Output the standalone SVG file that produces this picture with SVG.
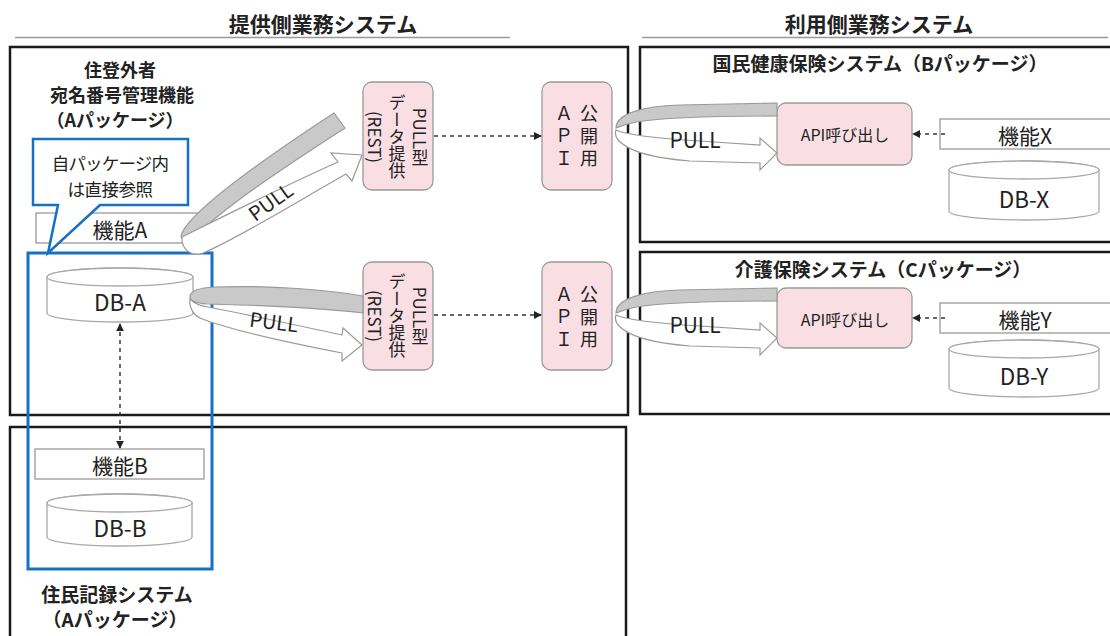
<svg xmlns="http://www.w3.org/2000/svg" width="1110" height="636" viewBox="0 0 1110 636">
<style>
text{font-family:"Noto Sans CJK JP","Noto Sans",sans-serif;fill:#222}
.hd{font-size:21px;font-weight:bold;text-anchor:middle}
.bt{font-size:18px;font-weight:bold;text-anchor:middle}
.bt2{font-size:19px;font-weight:bold;text-anchor:middle}
.lb{font-size:21px;text-anchor:middle;dominant-baseline:central}
.dbt{font-size:22.5px;text-anchor:middle;dominant-baseline:central}
.sys{fill:none;stroke:#1a1a1a;stroke-width:2.5}
.fn{fill:#fff;stroke:#9a9a9a;stroke-width:1.3}
.db{fill:#fff;stroke:#a8a8a8;stroke-width:1.3}
.pk{fill:#f9dfe4;stroke:#9a9a9a;stroke-width:1.3}
.vt{font-size:17px;writing-mode:vertical-rl;text-anchor:middle}
.va{font-size:18px;writing-mode:vertical-rl;text-anchor:middle;letter-spacing:4.5px}
.gr{fill:#c9c9c9;stroke:#9a9a9a;stroke-width:1.2}
.wh{fill:#fff;stroke:#9a9a9a;stroke-width:1.2}
.pl{font-size:20px;text-anchor:middle;dominant-baseline:central}
.pr{font-size:21px;text-anchor:middle;dominant-baseline:central}
.da{fill:none;stroke:#333;stroke-width:1.5;stroke-dasharray:4 4}
.blue{fill:none;stroke:#1670c4;stroke-width:3}
</style>
<defs>
<marker id="ah" viewBox="0 0 10 10" refX="9" refY="5" markerWidth="8" markerHeight="8" markerUnits="userSpaceOnUse" orient="auto-start-reverse">
<path d="M0,0 L10,5 L0,10 Z" fill="#222"/>
</marker>
</defs>

<g id="headers">
<text class="hd" x="323" y="32">提供側業務システム</text>
<line x1="15" y1="37.5" x2="510" y2="37.5" stroke="#999" stroke-width="1.3"/>
<text class="hd" x="879" y="32">利用側業務システム</text>
<line x1="642" y1="37.5" x2="1108" y2="37.5" stroke="#999" stroke-width="1.3"/>
</g>

<g id="sys-provider">
<rect class="sys" x="10" y="47" width="618" height="368"/>
<text class="bt" x="120" y="77">住登外者</text>
<text class="bt" x="122" y="102">宛名番号管理機能</text>
<text class="bt" x="115" y="127">（Aパッケージ）</text>
</g>
<g id="sys-jumin">
<rect class="sys" x="10" y="427" width="616" height="215"/>
<text class="bt2" x="117" y="602">住民記録システム</text>
<text class="bt2" x="115" y="627">（Aパッケージ）</text>
</g>
<g id="sys-b">
<rect class="sys" x="640" y="47" width="475" height="195"/>
<text class="bt2" x="880" y="71">国民健康保険システム（Bパッケージ）</text>
</g>
<g id="sys-c">
<rect class="sys" x="640" y="252" width="475" height="162"/>
<text class="bt2" x="883" y="277">介護保険システム（Cパッケージ）</text>
</g>

<g id="kinou-a">
<rect class="fn" x="36" y="213" width="165" height="30"/>
<text class="lb" x="120" y="229">機能A</text>
</g>
<g id="db-a">
<path class="db" d="M47,277 A73,9 0 0 1 193,277 V313 A73,9 0 0 1 47,313 Z"/>
<ellipse class="db" cx="120" cy="277" rx="73" ry="9"/>
<text class="dbt" x="120" y="301">DB-A</text>
</g>
<g id="kinou-b">
<rect class="fn" x="35" y="449" width="169" height="30"/>
<text class="lb" x="120" y="465">機能B</text>
</g>
<g id="db-b">
<path class="db" d="M47,503 A72.5,9 0 0 1 192,503 V537 A72.5,9 0 0 1 47,537 Z"/>
<ellipse class="db" cx="119.5" cy="503" rx="72.5" ry="9"/>
<text class="dbt" x="120" y="527">DB-B</text>
</g>
<g id="a-package">
<rect class="blue" x="28" y="253" width="184" height="316"/>
</g>
<g id="callout">
<path d="M33,139 H188 V205 H100 L48,253 L58,205 H33 Z" fill="#fff" stroke="#1670c4" stroke-width="2.5" stroke-linejoin="miter"/>
<text x="110" y="162" font-size="17.5" letter-spacing="-0.8" text-anchor="middle" dominant-baseline="central">自パッケージ内</text>
<text x="110" y="188" font-size="17.5" letter-spacing="-0.5" text-anchor="middle" dominant-baseline="central">は直接参照</text>
</g>

<g id="pull-rest-1">
<rect class="pk" x="363" y="82" width="70" height="108" rx="9"/>
<text class="vt" x="420" y="137">PULL型</text>
<text class="vt" x="397" y="137">データ提供</text>
<text class="vt" x="375" y="137">(REST)</text>
</g>
<g id="pull-rest-2">
<rect class="pk" x="363" y="262" width="70" height="108" rx="9"/>
<text class="vt" x="420" y="316">PULL型</text>
<text class="vt" x="397" y="316">データ提供</text>
<text class="vt" x="375" y="316">(REST)</text>
</g>
<g id="api-1">
<rect class="pk" x="542" y="82" width="70" height="108" rx="9"/>
<text class="va" x="589" y="138">公開用</text>
<text class="va" x="564" y="138">ＡＰＩ</text>
</g>
<g id="api-2">
<rect class="pk" x="542" y="262" width="70" height="108" rx="9"/>
<text class="va" x="589" y="319">公開用</text>
<text class="va" x="564" y="319">ＡＰＩ</text>
</g>

<g id="call-b">
<rect class="pk" x="777" y="103" width="135" height="62" rx="9"/>
<text x="845" y="134" font-size="16" text-anchor="middle" dominant-baseline="central">API呼び出し</text>
</g>
<g id="kinou-x">
<rect class="fn" x="940" y="119" width="175" height="30"/>
<text class="lb" x="1025" y="135">機能X</text>
</g>
<g id="db-x">
<path class="db" d="M949,170 A75,9 0 0 1 1099,170 V211 A75,9 0 0 1 949,211 Z"/>
<ellipse class="db" cx="1024" cy="170" rx="75" ry="9"/>
<text class="dbt" x="1024" y="198">DB-X</text>
</g>
<g id="call-c">
<rect class="pk" x="777" y="288" width="135" height="60" rx="9"/>
<text x="845" y="319" font-size="16" text-anchor="middle" dominant-baseline="central">API呼び出し</text>
</g>
<g id="kinou-y">
<rect class="fn" x="940" y="303" width="175" height="30"/>
<text class="lb" x="1025" y="319">機能Y</text>
</g>
<g id="db-y">
<path class="db" d="M949,349 A75,9 0 0 1 1099,349 V388 A75,9 0 0 1 949,388 Z"/>
<ellipse class="db" cx="1024" cy="349" rx="75" ry="9"/>
<text class="dbt" x="1024" y="375">DB-Y</text>
</g>

<g id="connectors">
<path class="gr" d="M181,236 C186,216 250,168 334,113 L345,128 C280,170 220,210 194,238 C190,242 183,242 181,236 Z"/>
<path class="wh" d="M182,237 C200,228 280,188 338,162 L331,153 L362,155 L352,181 L346,174 C300,200 235,240 203,253 C192,257 181,250 182,237 Z"/>
<text class="pl" x="270" y="201" transform="rotate(-36 270 201)">PULL</text>

<path class="gr" d="M190,297 C190,290 200,288 215,287 C270,285 330,290 363,296 L363,313 C320,308 250,305 207,304 C196,303 190,301 190,297 Z"/>
<path class="wh" d="M190,299 C195,304 200,306 208,307 C250,315 300,326 342,335 L343,328 L362,345 L342,361 L342,353 C290,343 230,330 200,318 C192,314 189,306 190,299 Z"/>
<text class="pl" x="274" y="321" transform="rotate(7 274 321)">PULL</text>

<g id="ribbon-b">
<path class="gr" d="M616,128 C616,114 642,106 680,105 L777,103 L777,116 C720,116 660,118 636,122 C626,124 619,127 616,128 Z"/>
<path class="wh" d="M616,130 C625,134 650,138 700,141 L760,145 L760,138 L777,153 L760,170 L760,163 L690,161 C650,158 628,150 619,141 C615,137 615,133 616,130 Z"/>
<text class="pr" x="695" y="139">PULL</text>
</g>
<g id="ribbon-c" transform="translate(0,185)">
<path class="gr" d="M616,128 C616,114 642,106 680,105 L777,103 L777,116 C720,116 660,118 636,122 C626,124 619,127 616,128 Z"/>
<path class="wh" d="M616,130 C625,134 650,138 700,141 L760,145 L760,138 L777,153 L760,170 L760,163 L690,161 C650,158 628,150 619,141 C615,137 615,133 616,130 Z"/>
<text class="pr" x="695" y="139">PULL</text>
</g>

<line class="da" x1="434" y1="136" x2="541" y2="136" marker-end="url(#ah)"/>
<line class="da" x1="434" y1="315" x2="541" y2="315" marker-end="url(#ah)"/>
<line class="da" x1="945" y1="134" x2="913" y2="134" marker-end="url(#ah)"/>
<line class="da" x1="945" y1="318" x2="913" y2="318" marker-end="url(#ah)"/>
<line class="da" x1="120" y1="324" x2="120" y2="448" marker-start="url(#ah)" marker-end="url(#ah)"/>
</g>
</svg>
